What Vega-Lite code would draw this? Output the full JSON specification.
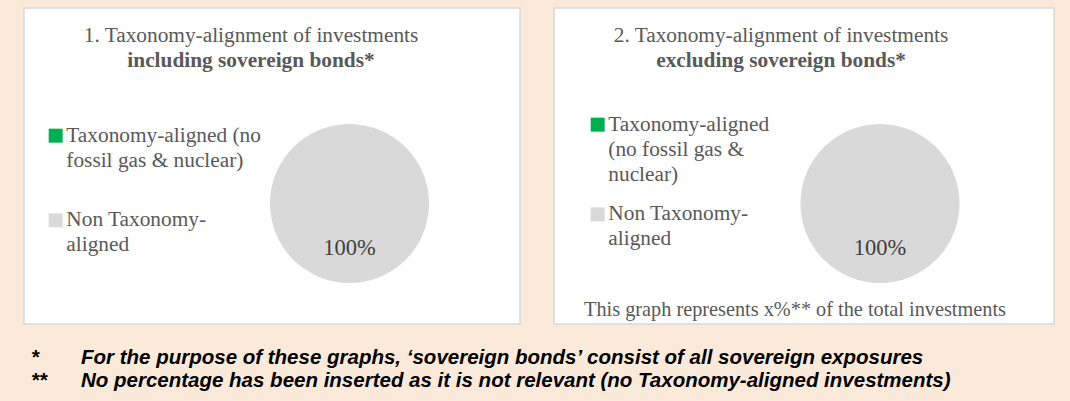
{
  "$schema": "https://vega.github.io/schema/vega-lite/v6.json",
  "background": "#FBE9DA",
  "padding": {"left": 23, "top": 7, "right": 17, "bottom": 10},
  "config": {
    "view": {"fill": "white", "stroke": "#D9D9D9", "strokeWidth": 1.5},
    "title": {
      "font": "Liberation Serif", "fontSize": 21.33, "fontWeight": "normal", "color": "#595959",
      "subtitleFont": "Liberation Serif", "subtitleFontSize": 21.33, "subtitleFontWeight": "bold",
      "subtitleColor": "#595959", "subtitlePadding": 3, "anchor": "middle"
    },
    "legend": {
      "orient": "none", "title": null, "symbolType": "square", "symbolSize": 196,
      "symbolStrokeWidth": 0, "labelFont": "Liberation Serif", "labelFontSize": 21.33,
      "labelColor": "#595959", "labelLimit": 0, "labelOffset": 0, "labelBaseline": "middle",
      "padding": 0
    }
  },
  "spacing": 21,
  "vconcat": [
    {
      "spacing": 32,
      "resolve": {"scale": {"color": "independent"}, "legend": {"color": "independent"}},
      "hconcat": [
        {
          "width": 496, "height": 316,
          "view": {"fill": "white", "stroke": "#D9D9D9", "strokeWidth": 1.5},
          "title": {"text": "1. Taxonomy-alignment of investments", "subtitle": "including sovereign bonds*", "offset": -63, "dx": -21},
          "data": {"values": [
            {"category": "Taxonomy-aligned (no fossil gas & nuclear)", "share": 0},
            {"category": "Non Taxonomy-aligned", "share": 1}
          ]},
          "layer": [
            {
              "mark": {"type": "arc", "outerRadius": 79.5, "x": 325.5, "y": 195.5},
              "encoding": {
                "theta": {"field": "share", "type": "quantitative", "stack": true},
                "color": {
                  "field": "category", "type": "nominal",
                  "scale": {"domain": ["Taxonomy-aligned (no fossil gas & nuclear)", "Non Taxonomy-aligned"], "range": ["#00B050", "#D9D9D9"]},
                  "legend": {
                    "legendX": 21, "legendY": 117, "rowPadding": 37.7,
                    "labelExpr": "datum.label == 'Non Taxonomy-aligned' ? ['Non Taxonomy-', 'aligned'] : ['Taxonomy-aligned (no', 'fossil gas & nuclear)']",
                    "encode": {"labels": {"update": {"lineHeight": {"value": 25}}}}
                  }
                }
              }
            },
            {
              "transform": [{"filter": "datum.share > 0"}],
              "mark": {"type": "text", "radius": 44, "x": 325.5, "y": 195.5, "font": "Liberation Serif", "fontSize": 22.5, "color": "#404040"},
              "encoding": {
                "theta": {"field": "share", "type": "quantitative", "stack": true},
                "text": {"field": "share", "type": "quantitative", "format": ".0%"}
              }
            }
          ]
        },
        {
          "width": 500, "height": 316,
          "view": {"fill": "white", "stroke": "#D9D9D9", "strokeWidth": 1.5},
          "title": {"text": "2. Taxonomy-alignment of investments", "subtitle": "excluding sovereign bonds*", "offset": -63, "dx": -23},
          "data": {"values": [
            {"category": "Taxonomy-aligned (no fossil gas & nuclear)", "share": 0},
            {"category": "Non Taxonomy-aligned", "share": 1}
          ]},
          "layer": [
            {
              "mark": {"type": "arc", "outerRadius": 79.5, "x": 326, "y": 195.5},
              "encoding": {
                "theta": {"field": "share", "type": "quantitative", "stack": true},
                "color": {
                  "field": "category", "type": "nominal",
                  "scale": {"domain": ["Taxonomy-aligned (no fossil gas & nuclear)", "Non Taxonomy-aligned"], "range": ["#00B050", "#D9D9D9"]},
                  "legend": {
                    "legendX": 33, "legendY": 106, "rowPadding": 17.7,
                    "labelExpr": "datum.label == 'Non Taxonomy-aligned' ? ['Non Taxonomy-', 'aligned'] : ['Taxonomy-aligned', '(no fossil gas &', 'nuclear)']",
                    "encode": {"labels": {"update": {"lineHeight": {"value": 25}}}}
                  }
                }
              }
            },
            {
              "transform": [{"filter": "datum.share > 0"}],
              "mark": {"type": "text", "radius": 44, "x": 326, "y": 195.5, "font": "Liberation Serif", "fontSize": 22.5, "color": "#404040"},
              "encoding": {
                "theta": {"field": "share", "type": "quantitative", "stack": true},
                "text": {"field": "share", "type": "quantitative", "format": ".0%"}
              }
            },
            {
              "data": {"values": [{"note": "This graph represents x%** of the total investments"}]},
              "mark": {"type": "text", "x": 241, "y": 308, "baseline": "alphabetic", "font": "Liberation Serif", "fontSize": 20.3, "color": "#595959"},
              "encoding": {"text": {"field": "note", "type": "nominal"}}
            }
          ]
        }
      ]
    },
    {
      "width": 1030, "height": 46,
      "view": {"fill": null, "stroke": null},
      "data": {"values": [
        {"sym": "*", "note": "For the purpose of these graphs, ‘sovereign bonds’ consist of all sovereign exposures"},
        {"sym": "**", "note": "No percentage has been inserted as it is not relevant (no Taxonomy-aligned investments)"}
      ]},
      "encoding": {"y": {"field": "sym", "type": "nominal", "sort": null, "axis": null}},
      "layer": [
        {
          "mark": {"type": "text", "align": "left", "x": 7, "font": "Liberation Sans", "fontStyle": "italic", "fontWeight": "bold", "fontSize": 20.5, "color": "#000000"},
          "encoding": {"text": {"field": "sym", "type": "nominal"}}
        },
        {
          "mark": {"type": "text", "align": "left", "x": 57, "font": "Liberation Sans", "fontStyle": "italic", "fontWeight": "bold", "fontSize": 20.5, "color": "#000000"},
          "encoding": {"text": {"field": "note", "type": "nominal"}}
        }
      ]
    }
  ]
}
